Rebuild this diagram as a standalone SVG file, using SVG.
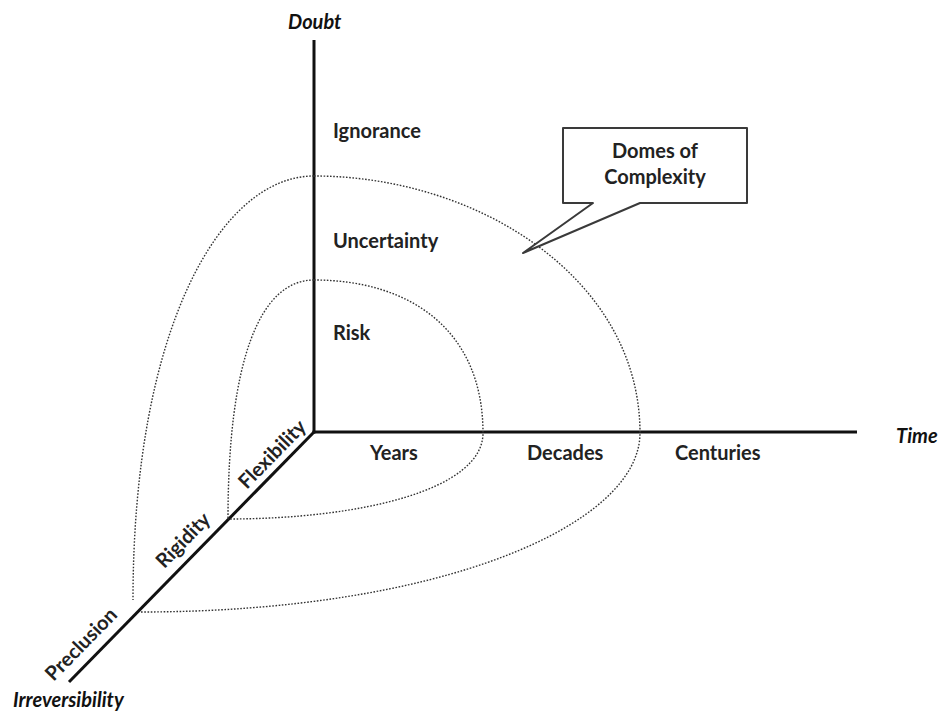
<svg xmlns="http://www.w3.org/2000/svg" width="939" height="713" viewBox="0 0 939 713">
  <style>
    .axis { stroke: #111; stroke-width: 3; fill: none; stroke-linecap: butt; }
    .dome { stroke: #333; stroke-width: 1.4; fill: none; stroke-dasharray: 1.6 1.6; }
    .lbl { font-family: Lato, "Open Sans", sans-serif; font-weight: 700; font-size: 20px; fill: #222; }
    .ax { font-family: Lato, "Open Sans", sans-serif; font-weight: 700; font-style: italic; font-size: 20px; fill: #111; }
    .call { fill: #fff; stroke: #3a3a3a; stroke-width: 2; stroke-linejoin: round; }
  </style>

  <rect width="939" height="713" fill="#fff"/>

  <!-- axes -->
  <g id="axes">
    <line class="axis" x1="314" y1="40" x2="314" y2="433.5"/>
    <line class="axis" x1="312.5" y1="432" x2="857" y2="432"/>
    <line class="axis" x1="315" y1="431" x2="69" y2="682"/>
  </g>

  <!-- dotted domes -->
  <g id="connectors">
    <!-- inner dome -->
    <path class="dome" d="M314,280 C410,280 483,330 483,433 C483,490 360,519 228,519"/>
    <path class="dome" d="M314,280 C260,280 228,360 228,519"/>
    <!-- outer dome -->
    <path class="dome" d="M314,176 C480,176 640,280 640,433 C640,525 440,612 140,612"/>
    <path class="dome" d="M314,176 C220,176 133,330 133,600"/>
  </g>

  <!-- axis titles -->
  <g id="axis-doubt"><text class="ax" x="288" y="29">Doubt</text></g>
  <g id="axis-time"><text class="ax" x="896" y="443">Time</text></g>
  <g id="axis-irreversibility"><text class="ax" x="13" y="707">Irreversibility</text></g>

  <!-- doubt levels -->
  <g id="ignorance"><text class="lbl" x="333" y="138">Ignorance</text></g>
  <g id="uncertainty"><text class="lbl" x="333" y="248">Uncertainty</text></g>
  <g id="risk"><text class="lbl" x="333" y="340">Risk</text></g>

  <!-- time scales -->
  <g id="years"><text class="lbl" x="370" y="460">Years</text></g>
  <g id="decades"><text class="lbl" x="527" y="460">Decades</text></g>
  <g id="centuries"><text class="lbl" x="675" y="460">Centuries</text></g>

  <!-- irreversibility levels, set along the diagonal axis -->
  <g id="flexibility"><text class="lbl" text-anchor="middle" transform="translate(277,459) rotate(-45.6)">Flexibility</text></g>
  <g id="rigidity"><text class="lbl" text-anchor="middle" transform="translate(188,545) rotate(-45.6)">Rigidity</text></g>
  <g id="preclusion"><text class="lbl" text-anchor="middle" transform="translate(86,649) rotate(-45.6)">Preclusion</text></g>

  <!-- callout -->
  <g id="domes-callout">
    <path class="call" d="M563,128 L747,128 L747,203 L640,203 L523,253 L593,203 L563,203 Z"/>
    <text class="lbl" text-anchor="middle" x="655" y="158">Domes of</text>
    <text class="lbl" text-anchor="middle" x="655" y="184">Complexity</text>
  </g>
</svg>
